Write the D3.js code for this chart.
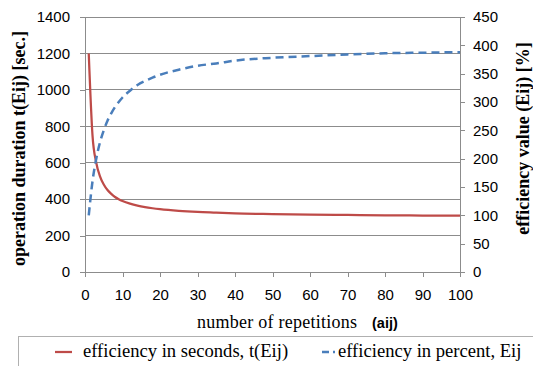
<!DOCTYPE html>
<html><head><meta charset="utf-8">
<script src="https://cdn.jsdelivr.net/npm/d3@7"></script>
<style>body{margin:0;background:#fff}svg{display:block}</style>
</head><body>
<script>
const repetitions = [1,2,3,4,5,6,7,8,9,10,12,14,16,18,20,25,30,35,40,50,60,70,80,90,100];
const secondsValues = [1200,750,600,525,480,450,429,412,400,390,375,364,356,350,345,336,330,326,322,318,315,313,311,310,309];
const percentValues = [100,160,200,229,250,267,280,291,300,308,320,330,337,343,348,357,364,368,373,378,381,384,386,387,388];
const xTicks = [0,10,20,30,40,50,60,70,80,90,100];
const leftTicks = [0,200,400,600,800,1000,1200,1400];
const rightTicks = [0,50,100,150,200,250,300,350,400,450];
const legendLabels = ["efficiency in seconds, t(Eij)", "efficiency in percent, Eij"];

const W = 533, H = 366;
const svg = d3.select("body").append("svg").attr("width", W).attr("height", H);
const L = 85, R = 460, T = 17, B = 272;
const x = d3.scaleLinear().domain([0,100]).range([L,R]);
const yL = d3.scaleLinear().domain([0,1400]).range([B,T]);
const yR = d3.scaleLinear().domain([0,450]).range([B,T]);
const sans = "'Liberation Sans', Arial, sans-serif";
const serif = "'Liberation Serif', 'Times New Roman', serif";
const fmt = d3.format("d");

svg.append("g").selectAll("line").data(leftTicks.filter(d=>d>0)).join("line")
  .attr("x1", L).attr("x2", R).attr("y1", d=>yL(d)).attr("y2", d=>yL(d))
  .attr("stroke", "#8c8c8c").attr("stroke-width", 1).attr("shape-rendering","crispEdges");

const gl = svg.append("g").attr("transform", `translate(${L},0)`)
  .call(d3.axisLeft(yL).tickValues(leftTicks).tickFormat(fmt).tickSize(5).tickPadding(10));
const gr = svg.append("g").attr("transform", `translate(${R},0)`)
  .call(d3.axisRight(yR).tickValues(rightTicks).tickFormat(fmt).tickSize(5).tickPadding(8));
const gb = svg.append("g").attr("transform", `translate(0,${B})`)
  .call(d3.axisBottom(x).tickValues(xTicks).tickFormat(fmt).tickSize(5).tickPadding(12));
[gl,gr,gb].forEach(g=>{
  g.select(".domain").attr("stroke","#8c8c8c").attr("shape-rendering","crispEdges");
  g.selectAll(".tick line").attr("stroke","#8c8c8c").attr("shape-rendering","crispEdges");
  g.selectAll("text").attr("font-family", sans).attr("font-size", 15).attr("fill","#000");
});
gl.select(".domain").attr("d", `M0,${B}V${T}`);
gr.select(".domain").attr("d", `M0,${B}V${T}`);
gb.select(".domain").attr("d", `M${L},0H${R}`);

const data = repetitions.map((r,i)=>({r, s: secondsValues[i], p: percentValues[i]}));
svg.append("path").datum(data)
  .attr("d", d3.line().x(d=>x(d.r)).y(d=>yL(d.s)).curve(d3.curveMonotoneX))
  .attr("fill","none").attr("stroke","#be4b48").attr("stroke-width",2.25);
svg.append("path").datum(data)
  .attr("d", d3.line().x(d=>x(d.r)).y(d=>yR(d.p)).curve(d3.curveMonotoneX))
  .attr("fill","none").attr("stroke","#4a7ebb").attr("stroke-width",2.5)
  .attr("stroke-dasharray","8,5");

svg.append("text").attr("transform", `translate(25,${(T+B)/2+4}) rotate(-90)`)
  .attr("text-anchor","middle").attr("font-family", serif).attr("font-weight","bold")
  .attr("font-size", 18).text("operation duration t(Eij) [sec.]");
svg.append("text").attr("transform", `translate(529,${(T+B)/2-6}) rotate(-90)`)
  .attr("text-anchor","middle").attr("font-family", serif).attr("font-weight","bold")
  .attr("font-size", 18).text("efficiency value (Eij) [%]");
svg.append("text").attr("x", 197).attr("y", 328).attr("font-family", serif)
  .attr("font-size", 18).attr("textLength", 160).text("number of repetitions");
svg.append("text").attr("x", 372).attr("y", 328).attr("font-family", sans)
  .attr("font-weight","bold").attr("font-size", 14.5).text("(aij)");

svg.append("rect").attr("x", 18.5).attr("y", 336.5).attr("width", 530).attr("height", 40)
  .attr("fill","none").attr("stroke","#b0b0b0");
const lg = svg.append("g");
lg.append("line").attr("x1",55).attr("x2",72).attr("y1",352).attr("y2",352)
  .attr("stroke","#be4b48").attr("stroke-width",2.25);
lg.append("text").attr("x",83).attr("y",357).attr("font-family",serif).attr("font-size",18.6)
  .text(legendLabels[0]);
lg.append("line").attr("x1",322).attr("x2",335).attr("y1",352).attr("y2",352)
  .attr("stroke","#4a7ebb").attr("stroke-width",2.5).attr("stroke-dasharray","7,4");
lg.append("text").attr("x",338).attr("y",357).attr("font-family",serif).attr("font-size",18.6)
  .text(legendLabels[1]);
</script>
</body></html>
